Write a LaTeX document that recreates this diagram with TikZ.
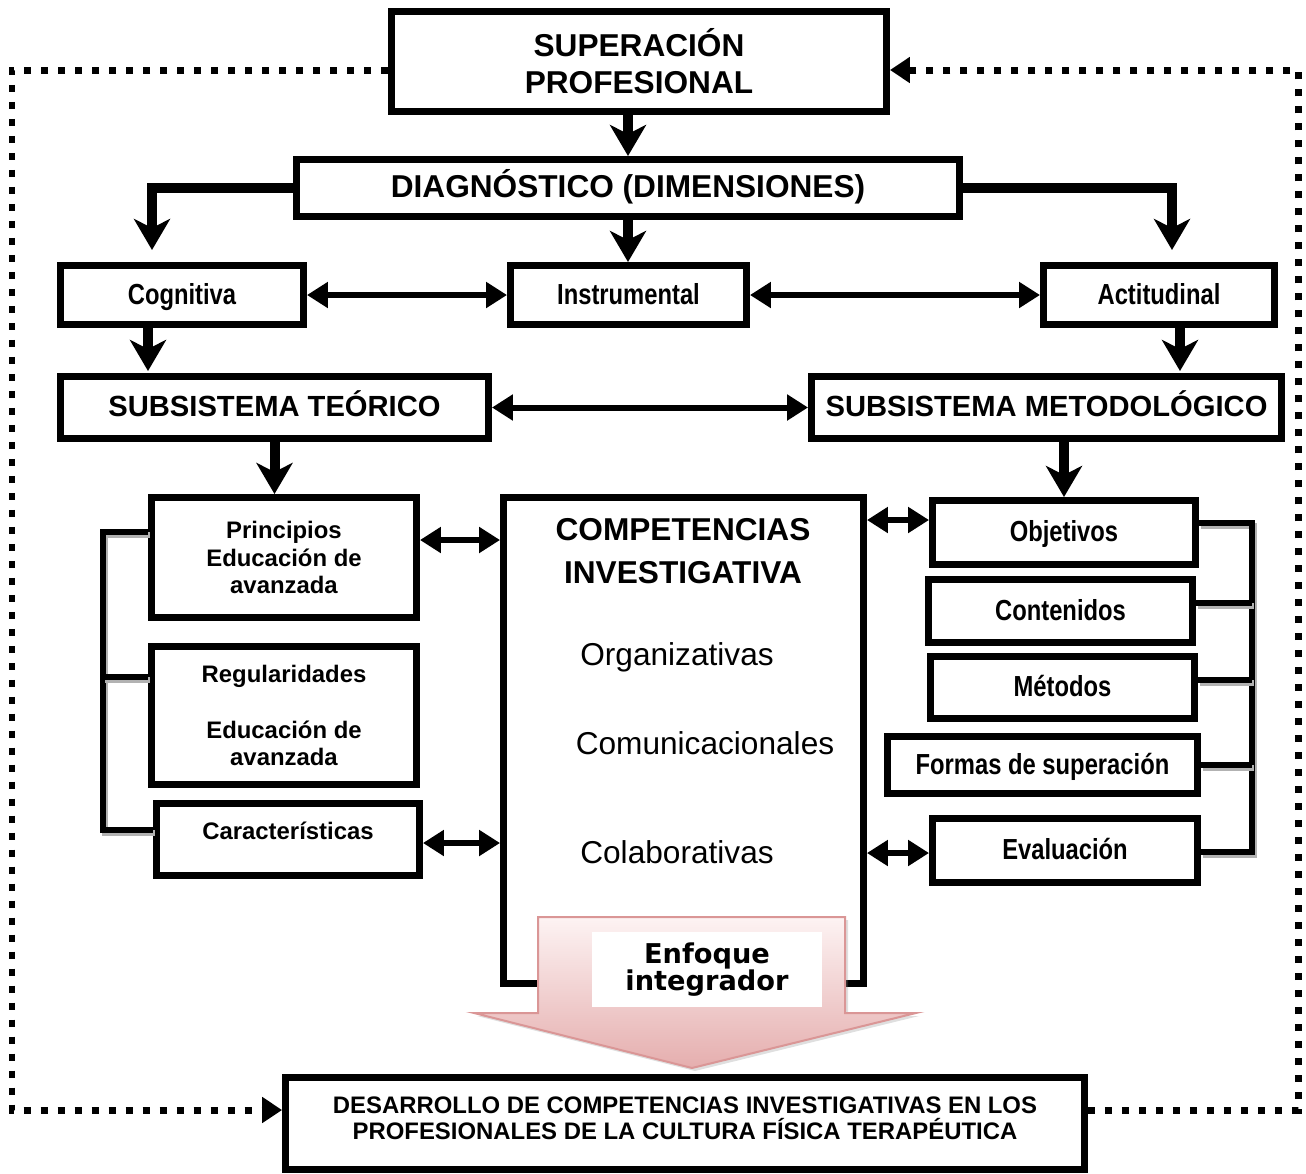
\documentclass[tikz,border=0pt]{standalone}
\usepackage{fontspec}
\setmainfont{Liberation Sans}
\newfontfamily\narrowfont{Liberation Sans}[FakeStretch=0.82]
\newfontfamily\heavyfont{DejaVu Sans}
\usepackage{tikz}
\usetikzlibrary{arrows.meta,shadows}
\usepackage{xcolor}
\definecolor{enflight}{RGB}{253,243,243}
\definecolor{enfpink}{RGB}{229,174,174}
\definecolor{enfedge}{RGB}{218,150,150}
\tikzstyle{box} = [draw, line width=0.14cm, fill=white, align=center, inner sep=0pt]
\tikzstyle{onebox} = [box, text height=0.44cm, text depth=0.08cm]
\tikzstyle{down} = [line width=0.2cm, -{Stealth[length=0.62cm,width=0.72cm,inset=0.18cm]}]
\tikzstyle{dbl} = [line width=0.12cm, {Triangle[length=0.42cm,width=0.5cm]}-{Triangle[length=0.42cm,width=0.5cm]}]
\tikzstyle{brk} = [line width=0.12cm, preaction={draw=gray!60, line width=0.12cm, transform canvas={shift={(0.04cm,-0.06cm)}}}]
\tikzstyle{feedback} = [line width=0.14cm, dash pattern=on 0.14cm off 0.2cm, -{Triangle[length=0.4cm,width=0.5cm]}]
\newcommand{\bigbold}{\fontsize{18}{21}\selectfont\bfseries}
\newcommand{\midbold}{\fontsize{16.6}{19}\selectfont\bfseries}
\newcommand{\narbold}{\narrowfont\fontsize{16.5}{19}\selectfont\bfseries}
\newcommand{\smallbold}{\fontsize{13.6}{15.9}\selectfont\bfseries}

\begin{document}
\begin{tikzpicture}[x=0.02cm,y=-0.02cm]
\useasboundingbox (0,0) rectangle (1306,1174);

% Top levels
\node[box, minimum width=9.9cm, minimum height=2cm, font=\bigbold] (sup) at (639,61.5) {SUPERACIÓN\\PROFESIONAL};
\node[onebox, minimum width=13.26cm, minimum height=1.14cm, font=\bigbold] (diag) at (628,188) {DIAGNÓSTICO (DIMENSIONES)};

% Dimensions
\node[onebox, minimum width=4.86cm, minimum height=1.18cm, font=\narbold] (cog) at (182,295) {Cognitiva};
\node[onebox, minimum width=4.72cm, minimum height=1.18cm, font=\narbold] (inst) at (628.5,295) {Instrumental};
\node[onebox, minimum width=4.62cm, minimum height=1.18cm, font=\narbold] (act) at (1159,295) {Actitudinal};

% Subsystems
\node[onebox, minimum width=8.56cm, minimum height=1.24cm, font=\midbold] (teo) at (274.5,407.5) {SUBSISTEMA TEÓRICO};
\node[onebox, minimum width=9.4cm, minimum height=1.24cm, font=\midbold] (met) at (1046.5,407.5) {SUBSISTEMA METODOLÓGICO};

% Theory side
\node[box, minimum width=5.3cm, minimum height=2.4cm, font=\smallbold] (prin) at (284,557.5) {Principios\\Educación de\\avanzada};
\node[box, minimum width=5.3cm, minimum height=2.76cm, font=\smallbold] (reg) at (284,715.5) {Regularidades\\\mbox{}\\Educación de\\avanzada};
\node[box, minimum width=5.26cm, minimum height=1.44cm, font=\smallbold] (car) at (288,839.5) {Características\\[-0.2cm]\mbox{}};

% Competencias
\node[box, minimum width=7.2cm, minimum height=9.72cm] (comp) at (683.5,740.5) {};
\node[align=center, font=\fontsize{18}{24.4}\selectfont\bfseries] (comptit) at (683,551.5) {COMPETENCIAS\\INVESTIGATIVA};
\node[font=\fontsize{18}{21}\selectfont] (org) at (677,657) {Organizativas};
\node[font=\fontsize{18}{21}\selectfont] (comu) at (705,743) {Comunicacionales};
\node[font=\fontsize{18}{21}\selectfont] (cola) at (677,852) {Colaborativas};

% Method side
\node[onebox, minimum width=5.26cm, minimum height=1.28cm, font=\narbold] (obj) at (1064,532.5) {Objetivos};
\node[onebox, minimum width=5.28cm, minimum height=1.26cm, font=\narbold] (cont) at (1060.5,611) {Contenidos};
\node[onebox, minimum width=5.28cm, minimum height=1.24cm, font=\narbold] (meto) at (1062.5,687.5) {Métodos};
\node[onebox, minimum width=6.2cm, minimum height=1.14cm, font=\narbold] (form) at (1042.5,765) {Formas de superación};
\node[onebox, minimum width=5.3cm, minimum height=1.28cm, font=\narbold] (eval) at (1065,850.5) {Evaluación};

% Result
\node[box, minimum width=15.98cm, minimum height=1.84cm, font=\fontsize{13.6}{14.8}\selectfont\bfseries] (fin) at (685,1123.5) {DESARROLLO DE COMPETENCIAS INVESTIGATIVAS EN LOS\\PROFESIONALES DE LA CULTURA FÍSICA TERAPÉUTICA\\[-0.3cm]\mbox{}};

% Integrating arrow
\path[draw=enfedge, line width=0.04cm, top color=enflight, bottom color=enfpink,
  drop shadow={opacity=0.25, shadow xshift=0.06cm, shadow yshift=-0.06cm}]
  (538,917) -- (845,917) -- (845,1013) -- (916,1013) -- (692,1068) -- (474,1013) -- (538,1013) -- cycle;
\node[fill=white, minimum width=4.6cm, minimum height=1.5cm, align=center, font=\heavyfont\fontsize{15.5}{15.3}\selectfont\bfseries] (enf) at (707,969.5) {Enfoque\\integrador};

% Arrows
\coordinate (cl) at (152,250);
\coordinate (cr) at (1172,250);
\coordinate (tl) at (148,371);
\coordinate (tr) at (1180,371);
\draw[down] (sup.south -| diag.north) -- (diag.north);
\draw[down] (diag.west) -| (cl);
\draw[down] (diag.east) -| (cr);
\draw[down] (diag.south) -- (diag.south |- inst.north);
\draw[dbl] (cog.east) -- (inst.west);
\draw[dbl] (inst.east) -- (act.west);
\draw[down] (cog.south -| tl) -- (tl);
\draw[down] (act.south -| tr) -- (tr);
\draw[dbl] (teo.east) -- (met.west);
\draw[down] (teo.south) -- (teo.south |- prin.north);
\draw[down] (obj.north |- met.south) -- (obj.north);

\coordinate (pa) at (460,540);
\coordinate (ca) at (460,843);
\coordinate (oa) at (900,520);
\coordinate (ea) at (900,853);
\draw[dbl] (prin.east |- pa) -- (comp.west |- pa);
\draw[dbl] (car.east |- ca) -- (comp.west |- ca);
\draw[dbl] (comp.east |- oa) -- (obj.west |- oa);
\draw[dbl] (comp.east |- ea) -- (eval.west |- ea);

% Brackets
\coordinate (lt) at (103,532);
\coordinate (lm) at (103,677);
\coordinate (lb) at (103,830);
\draw[brk] (prin.west |- lt) -- (lt) -- (lb) -- (car.west |- lb);
\draw[brk] (lm) -- (reg.west |- lm);
\coordinate (rt) at (1252,523);
\coordinate (r2) at (1252,603);
\coordinate (r3) at (1252,680);
\coordinate (r4) at (1252,765);
\coordinate (rb) at (1252,852);
\draw[brk] (obj.east |- rt) -- (rt) -- (rb) -- (eval.east |- rb);
\draw[brk] (cont.east |- r2) -- (r2);
\draw[brk] (meto.east |- r3) -- (r3);
\draw[brk] (form.east |- r4) -- (r4);

% Feedback
\coordinate (ftl) at (12,70);
\coordinate (fbl) at (12,1110);
\coordinate (ftr) at (1298,70);
\draw[feedback] (sup.west |- ftl) -| (fbl) -- (fin.west |- fbl);
\draw[feedback] (fin.east |- fbl) -| (ftr) -- (sup.east |- ftr);
\end{tikzpicture}
\end{document}
